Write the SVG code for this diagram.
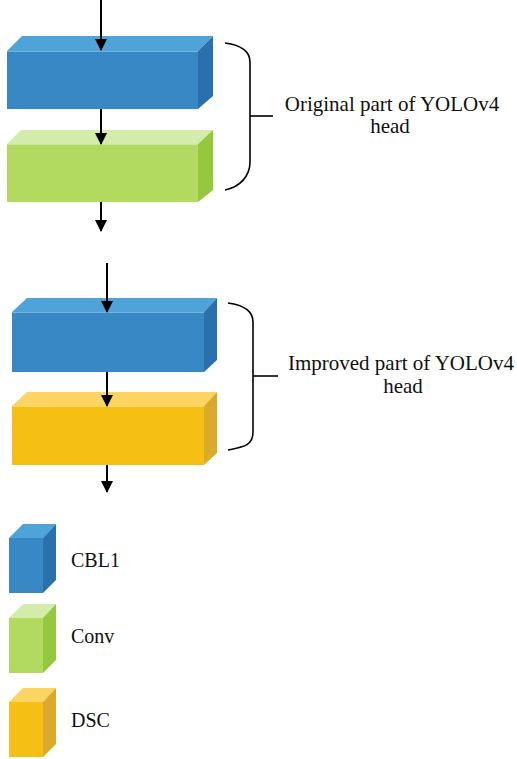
<svg xmlns="http://www.w3.org/2000/svg" width="517" height="759" viewBox="0 0 517 759">
<defs>
<style>
.blue .front{fill:#3888c5}.blue .top{fill:#4ea3d8}.blue .side{fill:#2a70ad}
.green .front{fill:#b3da60}.green .top{fill:#d3ebab}.green .side{fill:#95c83c}
.yellow .front{fill:#f6bf14}.yellow .top{fill:#fcd462}.yellow .side{fill:#dcaa2a}
.edge{stroke:#ffffff;stroke-opacity:0.35;stroke-width:1;fill:none}
.conn{stroke:#000;stroke-width:2;fill:none}
.brace{stroke:#000;stroke-width:1.6;fill:none}
.lbl{font-family:"Liberation Serif","Times New Roman",serif;font-size:20px;fill:#111}
.big{font-size:21px}
</style>
<marker id="ah" markerWidth="12" markerHeight="12" viewBox="0 0 12 12" refX="11" refY="6" orient="auto" markerUnits="userSpaceOnUse">
<path d="M0,0 L12,6 L0,12 z" fill="#000"/>
</marker>
</defs>
<rect width="517" height="759" fill="#fff"/>

<g id="cbl1-top" class="blue">
<polygon class="top" points="7,51 22,36 213,36 198,51"/>
<polygon class="side" points="198,51 213,36 213,96 198,109"/>
<rect class="front" x="7" y="51" width="191" height="58"/>
<line class="edge" x1="7" y1="51.5" x2="198" y2="51.5"/>
</g>
<g id="conv-top" class="green">
<polygon class="top" points="7,144 21,130 213,130 198,144"/>
<polygon class="side" points="198,144 213,130 213,190 198,202"/>
<rect class="front" x="7" y="144" width="191" height="58"/>
<line class="edge" x1="7" y1="144.5" x2="198" y2="144.5"/>
</g>
<g id="cbl1-bottom" class="blue">
<polygon class="top" points="12,312 27,298 217,298 204,312"/>
<polygon class="side" points="204,312 217,298 217,360 204,372"/>
<rect class="front" x="12" y="312" width="192" height="60"/>
<line class="edge" x1="12" y1="312.5" x2="204" y2="312.5"/>
</g>
<g id="dsc-bottom" class="yellow">
<polygon class="top" points="12,406 27,392 217,392 204,406"/>
<polygon class="side" points="204,406 217,392 217,453 204,465"/>
<rect class="front" x="12" y="406" width="192" height="59"/>
<line class="edge" x1="12" y1="406.5" x2="204" y2="406.5"/>
</g>

<g id="connectors">
<line class="conn" x1="101" y1="0" x2="101" y2="50" marker-end="url(#ah)"/>
<line class="conn" x1="101" y1="109" x2="101" y2="144" marker-end="url(#ah)"/>
<line class="conn" x1="101" y1="202" x2="101" y2="231" marker-end="url(#ah)"/>
<line class="conn" x1="107" y1="263" x2="107" y2="312" marker-end="url(#ah)"/>
<line class="conn" x1="107" y1="372" x2="107" y2="406" marker-end="url(#ah)"/>
<line class="conn" x1="107" y1="465" x2="107" y2="492" marker-end="url(#ah)"/>
</g>

<g id="brace-original">
<path class="brace" d="M225,43 C240,45 250,50 250,62 L250,162 C250,176 240,187 225,190"/>
<line class="brace" x1="250" y1="116" x2="273" y2="116"/>
<text class="lbl big" x="392" y="111" text-anchor="middle">Original part of YOLOv4</text>
<text class="lbl big" x="390" y="133" text-anchor="middle">head</text>
</g>
<g id="brace-improved">
<path class="brace" d="M228,303 C243,305 253,310 253,322 L253,432 C253,446 243,447 228,450"/>
<line class="brace" x1="253" y1="376" x2="278" y2="376"/>
<text class="lbl big" x="401" y="370" text-anchor="middle">Improved part of YOLOv4</text>
<text class="lbl big" x="403" y="393" text-anchor="middle">head</text>
</g>

<g id="legend-cbl1" class="blue">
<polygon class="top" points="9,538 23,524 56,524 43,538"/>
<polygon class="side" points="43,538 56,524 56,580 43,593"/>
<rect class="front" x="9" y="538" width="34" height="55"/>
<text class="lbl" x="71" y="567">CBL1</text>
</g>
<g id="legend-conv" class="green">
<polygon class="top" points="9,618 23,604 56,604 43,618"/>
<polygon class="side" points="43,618 56,604 56,660 43,673"/>
<rect class="front" x="9" y="618" width="34" height="55"/>
<text class="lbl" x="71" y="643">Conv</text>
</g>
<g id="legend-dsc" class="yellow">
<polygon class="top" points="9,702 23,688 56,688 43,702"/>
<polygon class="side" points="43,702 56,688 56,744 43,757"/>
<rect class="front" x="9" y="702" width="34" height="55"/>
<text class="lbl" x="71" y="727">DSC</text>
</g>
</svg>
